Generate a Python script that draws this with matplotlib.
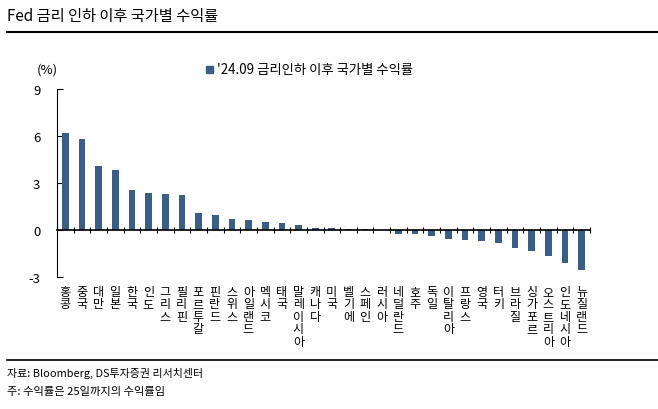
import numpy as np
import matplotlib.pyplot as plt

plt.rcParams['font.family'] = ['Noto Sans CJK KR', 'DejaVu Sans']

# data
countries = ['홍콩', '중국', '대만', '일본', '한국', '인도', '그리스', '필리핀',
             '포르투갈', '핀란드', '스위스', '아일랜드', '멕시코', '태국', '말레이시아',
             '캐나다', '미국', '벨기에', '스페인', '러시아', '네덜란드', '호주', '독일',
             '이탈리아', '프랑스', '영국', '터키', '브라질', '싱가포르', '오스트리아',
             '인도네시아', '뉴질랜드']
returns = [6.18, 5.83, 4.10, 3.81, 2.54, 2.35, 2.31, 2.22,
           1.08, 0.97, 0.72, 0.63, 0.49, 0.42, 0.32,
           0.13, 0.10, 0.08, 0.06, 0.0, -0.25, -0.25, -0.38,
           -0.59, -0.66, -0.72, -0.85, -1.14, -1.33, -1.65,
           -2.09, -2.56]
yticks = [-3, 0, 3, 6, 9]
series_name = "'24.09 금리인하 이후 국가별 수익률"

W, H = 658, 410
fig = plt.figure(figsize=(W / 100, H / 100), dpi=100)

def fx(px):
    return px / W

def fy(py):
    return 1 - py / H

ax = fig.add_axes([fx(57), fy(278), fx(590) - fx(57), fy(90) - fy(278)])

x = np.arange(len(countries))
ax.bar(x, returns, width=0.4, color='#3B5E86', zorder=2)

ax.set_xlim(-0.5, len(countries) - 0.5)
ax.set_ylim(-3, 9)
ax.set_yticks(yticks)
ax.set_yticklabels([str(v) for v in yticks], fontsize=9.5)

# category axis sits on zero line
ax.spines['bottom'].set_position(('data', 0))
ax.spines['bottom'].set_linewidth(1.2)
ax.spines['top'].set_visible(False)
ax.spines['right'].set_visible(False)
ax.spines['left'].set_linewidth(0.8)
ax.set_xticks(np.arange(len(countries) + 1) - 0.5)
ax.set_xticklabels([])
ax.tick_params(axis='x', direction='inout', length=4, width=0.8)
ax.tick_params(axis='y', direction='in', length=4, width=0.8, pad=12)

# vertical stacked labels under the plot
for i, name in enumerate(countries):
    fig.text(fx(65 + 16.67 * i), fy(286), '\n'.join(name), ha='center', va='top',
             fontsize=8.7, linespacing=0.95)

fig.text(fx(37), fy(70), '(%)', fontsize=9.5, va='center')
fig.patches.append(plt.Rectangle((fx(206), fy(74)), fx(7), fy(67) - fy(74),
                                 transform=fig.transFigure, color='#3B5E86'))
fig.text(fx(217), fy(70), series_name, fontsize=9.6, va='center')

# title and frame lines
fig.text(fx(7), fy(17), 'Fed 금리 인하 이후 국가별 수익률', fontsize=11, va='center')
fig.add_artist(plt.Line2D([fx(7), 1], [fy(33), fy(33)], color='black', lw=1.5))
fig.add_artist(plt.Line2D([fx(7), 1], [fy(361), fy(361)], color='black', lw=1.2))

fig.text(fx(7), fy(373), '자료: Bloomberg, DS투자증권 리서치센터', fontsize=7.9, va='center')
fig.text(fx(7), fy(392), '주: 수익률은 25일까지의 수익률임', fontsize=8.1, va='center')

fig.savefig('out.png', dpi=100)
